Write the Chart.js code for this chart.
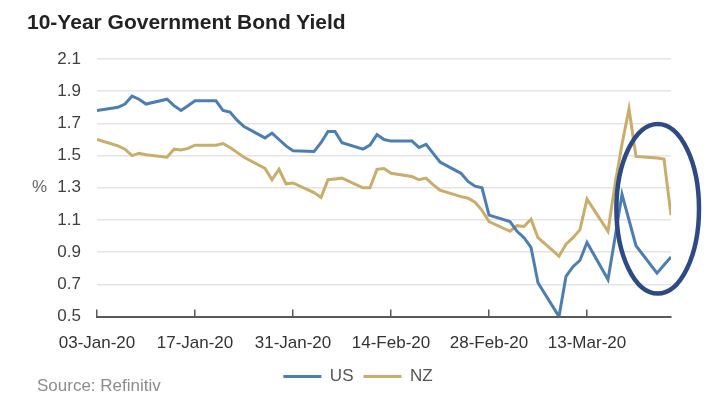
<!DOCTYPE html>
<html>
<head>
<meta charset="utf-8">
<script src="https://cdn.jsdelivr.net/npm/chart.js@4.4.1/dist/chart.umd.min.js"></script>
<style>
  html, body { margin: 0; padding: 0; background: #fff; }
  #wrap { position: relative; width: 710px; height: 395px; overflow: hidden; }
  #wrap canvas { position: absolute; left: 0; top: 0; }
  #title { position: absolute; left: 27px; top: 11px; font: bold 21px/21px "Liberation Sans", Arial, sans-serif; color: #222; white-space: nowrap; }
  #source { position: absolute; left: 37px; top: 377px; font: 17px/17px "Liberation Sans", Arial, sans-serif; color: #8c8c8c; white-space: nowrap; }
</style>
</head>
<body>
<div id="wrap">
  <canvas id="yieldChart" width="710" height="395"></canvas>
  <div id="title">10-Year Government Bond Yield</div>
  <div id="source">Source: Refinitiv</div>
</div>
<script>
// trading days, Jan - Mar 2020
const dates = [
  '2020-01-03',
  '2020-01-06', '2020-01-07', '2020-01-08', '2020-01-09', '2020-01-10',
  '2020-01-13', '2020-01-14', '2020-01-15', '2020-01-16', '2020-01-17',
  '2020-01-20', '2020-01-21', '2020-01-22', '2020-01-23', '2020-01-24',
  '2020-01-27', '2020-01-28', '2020-01-29', '2020-01-30', '2020-01-31',
  '2020-02-03', '2020-02-04', '2020-02-05', '2020-02-06', '2020-02-07',
  '2020-02-10', '2020-02-11', '2020-02-12', '2020-02-13', '2020-02-14',
  '2020-02-17', '2020-02-18', '2020-02-19', '2020-02-20', '2020-02-21',
  '2020-02-24', '2020-02-25', '2020-02-26', '2020-02-27', '2020-02-28',
  '2020-03-02', '2020-03-03', '2020-03-04', '2020-03-05', '2020-03-06',
  '2020-03-09', '2020-03-10', '2020-03-11', '2020-03-12', '2020-03-13',
  '2020-03-16', '2020-03-17', '2020-03-18', '2020-03-19', '2020-03-20',
  '2020-03-23', '2020-03-24', '2020-03-25'
];

const usYield = [
  1.78,
  1.80, 1.82, 1.87, 1.85, 1.82,
  1.85, 1.81, 1.78, 1.81, 1.84,
  1.84, 1.78, 1.77, 1.72, 1.68,
  1.61, 1.64, 1.60, 1.56, 1.53,
  1.525, 1.58, 1.65, 1.65, 1.58,
  1.54, 1.565, 1.63, 1.60, 1.59,
  1.59, 1.55, 1.57, 1.515, 1.46,
  1.39, 1.34, 1.31, 1.30, 1.13,
  1.09, 1.03, 0.99, 0.93, 0.71,
  0.50, 0.75, 0.81, 0.85, 0.96,
  0.73, 0.99, 1.26, 1.10, 0.94,
  0.77, 0.82, 0.87
];

const nzYield = [
  1.60,
  1.56, 1.54, 1.50, 1.515, 1.505,
  1.49, 1.54, 1.535, 1.545, 1.565,
  1.565, 1.575, 1.55, 1.52, 1.49,
  1.42, 1.35, 1.415, 1.325, 1.33,
  1.27, 1.24, 1.35, 1.355, 1.36,
  1.30, 1.30, 1.415, 1.42, 1.39,
  1.37, 1.35, 1.36, 1.32, 1.285,
  1.245, 1.235, 1.21, 1.16, 1.09,
  1.03, 1.065, 1.06, 1.105, 0.99,
  0.875, 0.95, 0.99, 1.04, 1.23,
  1.03, 1.32, 1.57, 1.79, 1.495,
  1.485, 1.478, 1.13
];

const xTickLabels = ['03-Jan-20', '17-Jan-20', '31-Jan-20', '14-Feb-20', '28-Feb-20', '13-Mar-20'];

// circled area at the end of the series (days from start, % yield)
const highlight = { day: 80.1, value: 1.17, dayRadius: 5.9, valueRadius: 0.527 };

// x is calendar days since the first date, so weekends leave gaps
const start = Date.parse(dates[0]);
const dayOffsets = dates.map(d => (Date.parse(d) - start) / 864e5);

const toPoints = values => values.map((v, i) => ({ x: dayOffsets[i], y: v }));

const narrow = '"Liberation Sans Narrow", "Liberation Sans", Arial, sans-serif';

// "%" beside the y axis plus the oval around the last few days
const extras = {
  id: 'extras',
  afterDraw(chart) {
    const { ctx, scales: { x, y } } = chart;
    ctx.save();
    ctx.font = '17px "Liberation Sans", Arial, sans-serif';
    ctx.fillStyle = '#666';
    ctx.textAlign = 'left';
    ctx.textBaseline = 'middle';
    ctx.fillText('%', y.left - 13, y.getPixelForValue(1.3));

    const cx = x.getPixelForValue(highlight.day);
    const cy = y.getPixelForValue(highlight.value);
    const rx = x.getPixelForValue(highlight.day + highlight.dayRadius) - cx;
    const ry = cy - y.getPixelForValue(highlight.value + highlight.valueRadius);
    ctx.beginPath();
    ctx.ellipse(cx, cy, rx, ry, 0, 0, Math.PI * 2);
    ctx.strokeStyle = '#2d4a84';
    ctx.lineWidth = 4.5;
    ctx.stroke();
    ctx.restore();
  }
};

Chart.defaults.font.family = '"Liberation Sans", Arial, sans-serif';

new Chart(document.getElementById('yieldChart'), {
  type: 'line',
  data: {
    datasets: [
      {
        label: 'US',
        data: toPoints(usYield),
        borderColor: '#4d7eb2',
        backgroundColor: '#4d7eb2',
        borderWidth: 3,
        pointRadius: 0,
        tension: 0
      },
      {
        label: 'NZ',
        data: toPoints(nzYield),
        borderColor: '#c9ad6b',
        backgroundColor: '#c9ad6b',
        borderWidth: 3,
        pointRadius: 0,
        tension: 0
      }
    ]
  },
  options: {
    responsive: false,
    animation: false,
    layout: { padding: { top: 59, right: 39, bottom: 0, left: 45 } },
    scales: {
      x: {
        type: 'linear',
        min: 0,
        max: dayOffsets[dayOffsets.length - 1],
        border: { color: '#595959', width: 2 },
        grid: { drawOnChartArea: false, color: '#595959', lineWidth: 1.5, tickLength: -7 },
        ticks: {
          stepSize: 14,
          includeBounds: false,
          autoSkip: false,
          maxRotation: 0,
          padding: 24,
          color: '#333',
          font: { family: narrow, size: 17 },
          callback: (v, i) => xTickLabels[i]
        },
        afterFit: s => { s.height -= 20; }
      },
      y: {
        min: 0.5,
        max: 2.1,
        border: { display: false },
        grid: { color: '#e4e4e4', lineWidth: 1.5, drawTicks: false },
        ticks: {
          stepSize: 0.2,
          padding: 16,
          color: '#404040',
          font: { size: 17 },
          callback: v => v.toFixed(1)
        },
        afterFit: s => { s.width = 52; }
      }
    },
    plugins: {
      legend: {
        position: 'bottom',
        labels: {
          usePointStyle: true,
          pointStyle: 'line',
          pointStyleWidth: 38,
          padding: 10,
          color: '#555',
          font: { family: narrow, size: 17 }
        }
      },
      tooltip: { enabled: false }
    }
  },
  plugins: [extras]
});
</script>
</body>
</html>
